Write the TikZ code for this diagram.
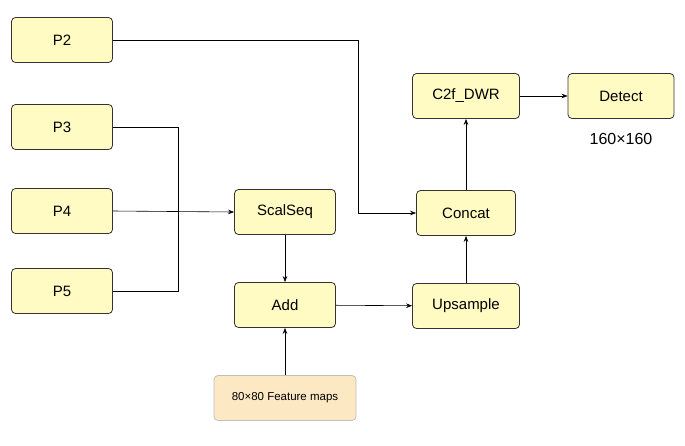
\documentclass[tikz,border=0pt]{standalone}
\usepackage{fontspec}
\setmainfont{Liberation Sans}
\usetikzlibrary{arrows.meta}
\definecolor{boxfill}{HTML}{FFFBC2}
\definecolor{fmfill}{HTML}{FCE9C4}
\begin{document}
\begin{tikzpicture}[x=1pt,y=-1pt,
  box/.style={draw=black!80,fill=boxfill,rounded corners=4pt,line width=0.8pt,minimum width=101pt,minimum height=45pt,font=\fontsize{15}{17}\selectfont,inner sep=0pt},
  fm/.style={box,draw=black!25,fill=fmfill,minimum width=142pt,font=\fontsize{11.5}{13}\selectfont},
  ar/.style={-{Stealth[length=6pt,width=4.5pt]},line width=0.6pt},
  ln/.style={line width=0.6pt}]
\useasboundingbox (0,0) rectangle (685,445);
\node[box] (p2) at (62,40) {P2};
\node[box] (p3) at (62,127) {P3};
\node[box] (p4) at (62,211) {P4};
\node[box] (p5) at (62,291) {P5};
\node[box] (ss) at (285,212) {ScalSeq};
\node[box] (add) at (285,305) {Add};
\node[fm] (fm) at (285,398) {80×80 Feature maps};
\node[box,minimum width=107pt] (up) at (466,306) {Upsample};
\node[box,minimum width=99pt] (cc) at (466,213) {Concat};
\node[box,minimum width=107pt] (c2f) at (466,96) {C2f\_DWR};
\node[box,minimum width=106pt] (det) at (621,96) {Detect};
\node[font=\fontsize{16}{18}\selectfont] (lbl) at (621,139) {160×160};
\coordinate (j2) at (358,40);
\coordinate (j2b) at (358,213);
\coordinate (j3) at (178,127);
\coordinate (j5) at (178,291);
\draw[ar] (p2.east) -- (j2) -- (j2b) -- (cc.west);
\draw[ln] (p3.east) -- (j3) -- (j5) -- (p5.east);
\draw[ar] (p4.east) -- (ss.west);
\draw[ar] (ss) -- (add);
\draw[ar] (fm) -- (add);
\draw[ar] (add) -- (up);
\draw[ar] (up) -- (cc);
\draw[ar] (cc) -- (c2f);
\draw[ar] (c2f) -- (det);
\end{tikzpicture}
\end{document}
